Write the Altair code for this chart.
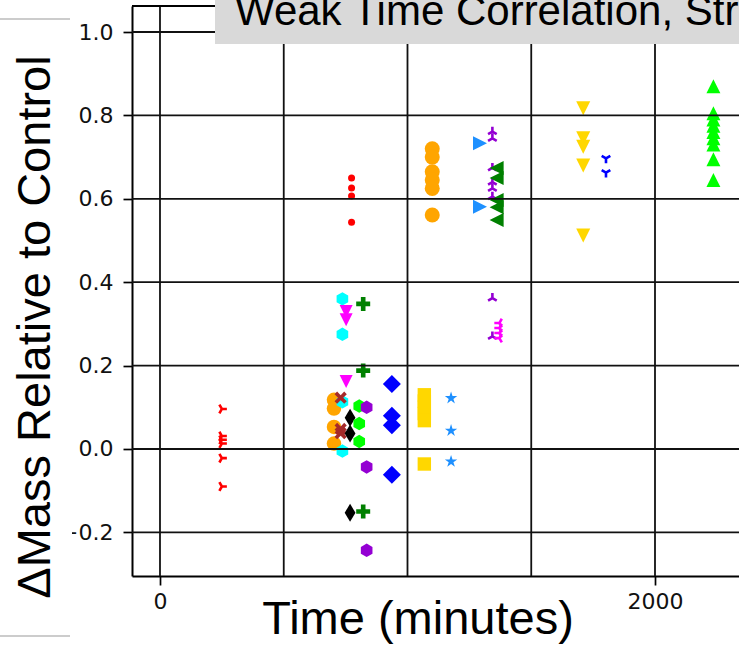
import altair as alt
import pandas as pd

# ---------------- data ----------------
red_tri_time = 250
red_tri_vals = [0.096, 0.031, 0.022, 0.013, -0.022, -0.090]
orange_a_time = 703
orange_a_vals = [0.118, 0.097, 0.053, 0.013]
cyan_time = 737
cyan_vals = [0.360, 0.275, 0.113, -0.005]
magenta_v_time = 752
magenta_v_vals = [0.330, 0.310, 0.162]
brown_time = 730
brown_vals = [0.123, 0.048, 0.038]
red_dot_time = 774
red_dot_vals = [0.650, 0.626, 0.607, 0.544]
black_time = 768
black_vals = [0.075, 0.037, -0.153]
lime_h_time = 805
lime_h_vals = [0.103, 0.061, 0.018]
violet_h_time = 835
violet_h_vals = [0.100, -0.043, -0.243]
green_p_time = 821
green_p_vals = [0.348, 0.188, -0.150]
blue_d_time = 937
blue_d_vals = [0.156, 0.080, 0.057, -0.062]
gold_s_time = 1068
gold_s_vals = [0.130, 0.115, 0.100, 0.085, 0.068, -0.036]
star_time = 1176
star_vals = [0.122, 0.044, -0.030]
orange_b_time = 1100
orange_b_vals = [0.720, 0.700, 0.665, 0.645, 0.625, 0.561]
blue_r_time = 1293
blue_r_vals = [0.733, 0.581]
violet_t_time = 1343
violet_t_vals = [0.761, 0.745, 0.674, 0.640, 0.625, 0.605, 0.362, 0.270]
green_l_time = 1360
green_l_vals = [0.674, 0.650, 0.597, 0.580, 0.549]
magenta_t_time = 1371
magenta_t_vals = [0.302, 0.290, 0.278, 0.266]
gold_v_time = 1710
gold_v_vals = [0.817, 0.745, 0.725, 0.680, 0.512]
blue_y_time = 1802
blue_y_vals = [0.697, 0.663]
lime_t_time = 2236
lime_t_vals = [0.870, 0.805, 0.790, 0.775, 0.760, 0.745, 0.730, 0.695, 0.645]

y_ticks = [-0.2, 0.0, 0.2, 0.4, 0.6, 0.8, 1.0]
x_ticks = [0, 2000]
x_grid = [0, 500, 1000, 1500, 2000]

title_text = "Weak Time Correlation, Strong Sample Correlation"
x_title = "Time (minutes)"
y_title = "\u0394Mass Relative to Control"

# ---------------- marker shapes (styles) ----------------
P_CIRCLE = "circle"
P_HEX = "M0,-1L0.866,-0.5L0.866,0.5L0,1L-0.866,0.5L-0.866,-0.5Z"
P_TDOWN = "M0,1L-1,-1L1,-1Z"
P_TUP = "M0,-1L-1,1L1,1Z"
P_TRIGHT = "M1,0L-1,-1L-1,1Z"
P_TLEFT = "M-1,0L1,-1L1,1Z"
P_DIAMOND = "M0,-1L1,0L0,1L-1,0Z"
P_THIN_D = "M0,-1L0.6,0L0,1L-0.6,0Z"
P_SQUARE = "M-1,-1L1,-1L1,1L-1,1Z"
P_PLUS = "M-0.33,-1L0.33,-1L0.33,-0.33L1,-0.33L1,0.33L0.33,0.33L0.33,1L-0.33,1L-0.33,0.33L-1,0.33L-1,-0.33L-0.33,-0.33Z"
P_X = "M0,-0.42L0.58,-1L1,-0.58L0.42,0L1,0.58L0.58,1L0,0.42L-0.58,1L-1,0.58L-0.42,0L-1,-0.58L-0.58,-1Z"
P_STAR = ("M0,-1L0.2234,-0.3074L0.9511,-0.309L0.3614,0.1174L0.5878,0.809L0,0.38"
          "L-0.5878,0.809L-0.3614,0.1174L-0.9511,-0.309L-0.2234,-0.3074Z")
P_TRI_DOWN = "M0,0L0,1M0,0L-0.866,-0.5M0,0L0.866,-0.5"
P_TRI_UP = "M0,0L0,-1M0,0L-0.866,0.5M0,0L0.866,0.5"
P_TRI_LEFT = "M0,0L-1,0M0,0L0.5,-0.866M0,0L0.5,0.866"
P_TRI_RIGHT = "M0,0L1,0M0,0L-0.5,-0.866M0,0L-0.5,0.866"

series = [
    # time, values, shape, color, size, filled
    (red_tri_time, red_tri_vals, P_TRI_RIGHT, "#FF0000", 100, False),
    (orange_a_time, orange_a_vals, P_CIRCLE, "#FFA500", 210, True),
    (cyan_time, cyan_vals, P_HEX, "#00FFFF", 180, True),
    (magenta_v_time, magenta_v_vals, P_TDOWN, "#FF00FF", 169, True),
    (brown_time, brown_vals, P_X, "#A52A2A", 150, True),
    (red_dot_time, red_dot_vals, P_CIRCLE, "#FF0000", 49, True),
    (black_time, black_vals, P_THIN_D, "#000000", 324, True),
    (lime_h_time, lime_h_vals, P_HEX, "#00FF00", 180, True),
    (violet_h_time, violet_h_vals, P_HEX, "#9400D3", 180, True),
    (green_p_time, green_p_vals, P_PLUS, "#008000", 196, True),
    (blue_d_time, blue_d_vals, P_DIAMOND, "#0000FF", 324, True),
    (gold_s_time, gold_s_vals, P_SQUARE, "#FFD700", 180, True),
    (star_time, star_vals, P_STAR, "#1E90FF", 170, True),
    (orange_b_time, orange_b_vals, P_CIRCLE, "#FFA500", 225, True),
    (blue_r_time, blue_r_vals, P_TRIGHT, "#1E90FF", 196, True),
    (violet_t_time, violet_t_vals, P_TRI_UP, "#9400D3", 100, False),
    (green_l_time, green_l_vals, P_TLEFT, "#008000", 196, True),
    (magenta_t_time, magenta_t_vals, P_TRI_LEFT, "#FF00FF", 100, False),
    (gold_v_time, gold_v_vals, P_TDOWN, "#FFD700", 196, True),
    (blue_y_time, blue_y_vals, P_TRI_DOWN, "#0000FF", 100, False),
    (lime_t_time, lime_t_vals, P_TUP, "#00FF00", 196, True),
]

W, H = 607, 570
X_DOMAIN = [-113.1, 2339.4]
Y_DOMAIN = [-0.3046, 1.0624]

x_enc = alt.X(
    "t:Q",
    scale=alt.Scale(domain=X_DOMAIN, nice=False, zero=False),
    axis=alt.Axis(values=x_ticks, format="d", labelPadding=6, zindex=0,
                  titleX=285.5, titleY=57, titleAlign="center",
                  titleBaseline="alphabetic"),
    title=x_title,
)
y_enc = alt.Y(
    "v:Q",
    scale=alt.Scale(domain=Y_DOMAIN, nice=False, zero=False),
    axis=alt.Axis(values=y_ticks, format=".1f", labelPadding=10, zindex=0,
                  labelExpr="replace(datum.label, '-', '\u2212')"),
    title=None,
)

layers = []
for t, vals, shape, color, size, filled in series:
    df = pd.DataFrame({"t": [t] * len(vals), "v": vals})
    if filled:
        mk = alt.Chart(df).mark_point(shape=shape, filled=True, color=color,
                                      size=size, opacity=1)
    else:
        mk = alt.Chart(df).mark_point(shape=shape, filled=False, color=color,
                                      size=size, opacity=1, strokeWidth=2.6)
    layers.append(mk.encode(x=x_enc, y=y_enc))

# grid lines drawn over markers
grid_y = alt.Chart(pd.DataFrame({"v": y_ticks})).mark_rule(
    color="#111111", strokeWidth=1.8).encode(y=y_enc)
grid_x = alt.Chart(pd.DataFrame({"t": x_grid})).mark_rule(
    color="#111111", strokeWidth=1.8).encode(x=x_enc)
layers += [grid_y, grid_x]

one = pd.DataFrame({"a": [0]})
top_spine = alt.Chart(one).mark_rule(color="black", strokeWidth=2).encode(
    x=alt.value(0), x2=alt.value(W), y=alt.value(0))
title_box = alt.Chart(one).mark_rect(color="#d9d9d9").encode(
    x=alt.value(83), x2=alt.value(W + 10), y=alt.value(-6), y2=alt.value(38))
title_txt = alt.Chart(one).mark_text(
    text=title_text, font="Liberation Sans", fontSize=42, align="left",
    baseline="alphabetic", color="black").encode(x=alt.value(103), y=alt.value(19))
cover = alt.Chart(one).mark_rect(color="white").encode(
    x=alt.value(-132), x2=alt.value(-60), y=alt.value(13), y2=alt.value(630))
cover_top = alt.Chart(one).mark_rule(color="#cccccc", strokeWidth=2).encode(
    x=alt.value(-132), x2=alt.value(-62), y=alt.value(13))
cover_bot = alt.Chart(one).mark_rule(color="#cccccc", strokeWidth=2).encode(
    x=alt.value(-132), x2=alt.value(-62), y=alt.value(630))
y_title_txt = alt.Chart(one).mark_text(
    text=y_title, font="Liberation Sans", fontSize=47, angle=270, align="center",
    baseline="alphabetic", color="black").encode(x=alt.value(-82), y=alt.value(321))
layers += [top_spine, title_box, title_txt, cover, cover_top, cover_bot, y_title_txt]

chart = alt.layer(*layers).properties(
    width=W, height=H,
    autosize=alt.AutoSizeParams(type="none"),
    padding={"left": 132, "top": 6, "right": 0, "bottom": 70},
    background="white",
).configure_view(strokeWidth=0).configure_axis(
    grid=False, domainColor="black", domainWidth=2, tickColor="black",
    tickWidth=1.7, tickSize=9, labelFont="DejaVu Sans", labelFontSize=22,
    labelColor="#111111", titleFont="Liberation Sans", titleFontSize=47,
    titleFontWeight="normal", titleColor="black",
)

chart.save("out.html", embed_options={"renderer": "svg", "actions": False})
